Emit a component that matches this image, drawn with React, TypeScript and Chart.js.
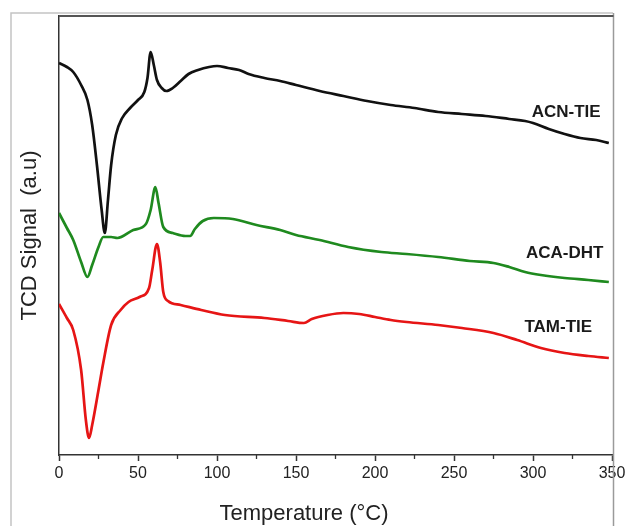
import { useEffect, useRef } from 'react';
import { Chart, registerables } from 'chart.js';

Chart.register(...registerables);

// ---- Data ----
const xTickValues = [0, 50, 100, 150, 200, 250, 300, 350];
const minorTickValues = [25, 75, 125, 175, 225, 275, 325];

const acnTemp = [0, 5, 9, 14, 18, 21, 24, 27, 29, 31, 33, 36, 40, 45, 50, 54, 56, 58, 60, 62, 65, 68, 72, 77, 82, 88, 95, 100, 107, 114, 120, 130, 140, 150, 165, 180, 195, 210, 225, 240, 255, 270, 285, 295, 300, 310, 320, 330, 340, 348];
const acnSignal = [392, 388, 383, 370, 355, 330, 290, 245, 222, 255, 290, 320, 337, 347, 355, 363, 377, 403, 390, 375, 367, 364, 367, 374, 381, 385, 388, 389, 387, 385, 381, 377, 374, 370, 364, 359, 354, 350, 347, 343, 341, 339, 336, 334, 332, 326, 321, 317, 315, 312];

const acaTemp = [0, 5, 9, 14, 18, 21, 25, 28, 33, 37, 47, 55, 58, 61, 63, 66, 72, 80, 83, 86, 91, 98, 110, 125, 140, 150, 165, 183, 204, 220, 240, 260, 275, 285, 295, 305, 320, 335, 348];
const acaSignal = [242, 227, 215, 193, 178, 190, 208, 218, 218, 217, 225, 231, 245, 268, 252, 228, 222, 219, 219, 226, 234, 237, 236, 230, 225, 220, 215, 208, 203, 201, 198, 194, 192, 188, 183, 180, 177, 175, 173];

const tamTemp = [0, 5, 9, 14, 17, 19, 21, 25, 28, 33, 39, 44, 51, 57, 59, 62, 64, 66, 69, 77, 90, 105, 130, 145, 155, 160, 170, 180, 190, 200, 210, 220, 240, 255, 275, 290, 305, 320, 335, 348];
const tamSignal = [151, 137, 125, 85, 35, 17, 30, 65, 92, 130, 145, 153, 158, 167, 185, 211, 193, 163, 154, 150, 145, 140, 137, 134, 132, 136, 140, 142, 141, 138, 135, 133, 130, 127, 122, 115, 107, 102, 99, 97];

const seriesNames = ['ACN-TIE', 'ACA-DHT', 'TAM-TIE'];
const seriesColors = ['#111111', '#1f8a1f', '#e61515'];
const labelTemps = [321, 320, 316];
const labelSignals = [343, 202, 128];

const xTitle = 'Temperature (°C)';
const yTitle = 'TCD Signal  (a.u)';

const FONT = '"Liberation Sans", Arial, sans-serif';

const toPoints = (xs: number[], ys: number[]) => xs.map((x, i) => ({ x, y: ys[i] }));

const decorPlugin = {
  id: 'decor',
  beforeDraw(chart: any) {
    const { ctx, width, height } = chart;
    ctx.save();
    ctx.fillStyle = '#ffffff';
    ctx.fillRect(0, 0, width, height);
    ctx.restore();
  },
  afterDraw(chart: any) {
    const { ctx, chartArea, scales } = chart;
    const xs = scales.x;
    ctx.save();
    // outer light frame
    ctx.strokeStyle = '#c4c4c4';
    ctx.lineWidth = 1.5;
    ctx.beginPath();
    ctx.moveTo(11, 530);
    ctx.lineTo(11, 13);
    ctx.lineTo(613, 13);
    ctx.stroke();
    // right frame line
    ctx.strokeStyle = '#9a9a9a';
    ctx.lineWidth = 1.5;
    ctx.beginPath();
    ctx.moveTo(613.5, 13);
    ctx.lineTo(613.5, 530);
    ctx.stroke();
    // top plot border
    ctx.strokeStyle = '#555555';
    ctx.lineWidth = 2;
    ctx.beginPath();
    ctx.moveTo(chartArea.left, chartArea.top);
    ctx.lineTo(613.5, chartArea.top);
    ctx.stroke();
    // minor ticks
    ctx.strokeStyle = '#333333';
    ctx.lineWidth = 1.3;
    minorTickValues.forEach((v) => {
      const px = xs.getPixelForValue(v);
      ctx.beginPath();
      ctx.moveTo(px, chartArea.bottom);
      ctx.lineTo(px, chartArea.bottom + 4);
      ctx.stroke();
    });
    // series labels
    ctx.fillStyle = '#1a1a1a';
    ctx.font = `bold 17px ${FONT}`;
    ctx.textAlign = 'center';
    ctx.textBaseline = 'middle';
    seriesNames.forEach((name, i) => {
      const px = xs.getPixelForValue(labelTemps[i]);
      const py = scales.y.getPixelForValue(labelSignals[i]);
      ctx.fillText(name, px, py);
    });
    // x axis title
    ctx.font = `22px ${FONT}`;
    ctx.fillStyle = '#222222';
    ctx.fillText(xTitle, 304, 514);
    ctx.restore();
  },
};

export default function App() {
  const canvasRef = useRef<HTMLCanvasElement | null>(null);

  useEffect(() => {
    if (!canvasRef.current) return;
    const chart = new Chart(canvasRef.current, {
      type: 'line',
      data: {
        datasets: [
          { label: seriesNames[0], data: toPoints(acnTemp, acnSignal), borderColor: seriesColors[0] },
          { label: seriesNames[1], data: toPoints(acaTemp, acaSignal), borderColor: seriesColors[1] },
          { label: seriesNames[2], data: toPoints(tamTemp, tamSignal), borderColor: seriesColors[2] },
        ].map((d) => ({
          ...d,
          borderWidth: 2.7,
          pointRadius: 0,
          fill: false,
          cubicInterpolationMode: 'monotone' as const,
        })),
      },
      options: {
        responsive: false,
        animation: false,
        events: [],
        layout: { padding: { left: 0, top: 16, right: 14, bottom: 0 } },
        plugins: { legend: { display: false }, tooltip: { enabled: false }, title: { display: false } },
        scales: {
          x: {
            type: 'linear',
            min: 0,
            max: 350,
            afterFit: (s: any) => { s.height = 71; s.paddingLeft = 0; s.paddingRight = 0; },
            afterBuildTicks: (s: any) => { s.ticks = xTickValues.map((v) => ({ value: v })); },
            ticks: { font: { family: FONT, size: 16 }, color: '#222222', padding: 3, maxRotation: 0 },
            grid: { drawOnChartArea: false, drawTicks: true, tickLength: 6, tickColor: '#333333', tickWidth: 1.5 },
            border: { display: true, color: '#333333', width: 1.5 },
            title: { display: false },
          },
          y: {
            type: 'linear',
            min: 0,
            max: 439,
            afterFit: (s: any) => { s.width = 59; },
            ticks: { display: false },
            grid: { drawOnChartArea: false, drawTicks: false },
            border: { display: true, color: '#333333', width: 1.5 },
            title: {
              display: true,
              text: yTitle,
              font: { family: FONT, size: 22 },
              color: '#222222',
              padding: { top: 17, bottom: 0 },
            },
          },
        },
      },
      plugins: [decorPlugin],
    });
    return () => chart.destroy();
  }, []);

  return (
    <div style={{ position: 'fixed', left: 0, top: 0, width: 626, height: 526, background: '#fff' }}>
      <canvas ref={canvasRef} width={626} height={526} />
    </div>
  );
}
